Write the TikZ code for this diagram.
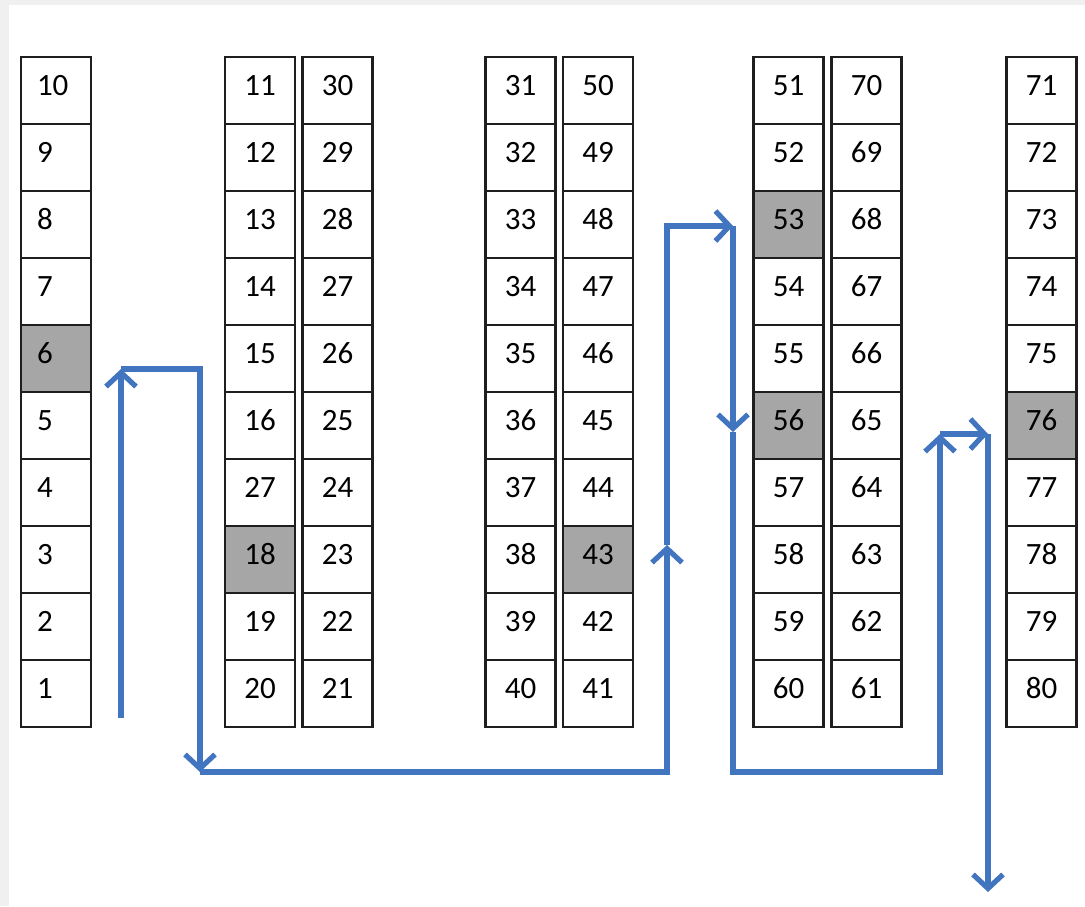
\documentclass[tikz,border=0pt]{standalone}
\usepackage{fontspec}
\setmainfont{Carlito}
\usetikzlibrary{arrows.meta}
\definecolor{flow}{RGB}{66,117,192}
\definecolor{shade}{RGB}{166,166,166}
\definecolor{framegray}{RGB}{240,240,240}
\definecolor{edge}{RGB}{30,30,30}
\begin{document}
\begin{tikzpicture}[x=1pt,y=-1pt,
  cell/.style={draw=edge, line width=2.2pt, fill=white, minimum width=70pt,
    minimum height=67pt, inner sep=0pt, text height=19.6pt, text depth=10pt,
    font=\fontsize{31}{36}\selectfont},
  lcell/.style={cell, text width=38pt, align=left},
  hl6/.style={fill=shade}, hl18/.style={fill=shade}, hl43/.style={fill=shade},
  hl53/.style={fill=shade}, hl56/.style={fill=shade}, hl76/.style={fill=shade},
  flowline/.style={draw=flow, line width=5.2pt,
    -{Straight Barb[length=14pt,width=30pt]}}]
\fill[framegray] (0,0) rectangle (1085,906);
\fill[white] (9,5) rectangle (1085,906);
\useasboundingbox (0,0) rectangle (1085,906);
% cells
\foreach \i in {0,...,9}{
  \pgfmathtruncatemacro\a{10-\i}
  \node[lcell, hl\a/.try] (n\a) at (56,90.5+67*\i) {\a};
  \pgfmathtruncatemacro\a{11+\i}
  \node[cell, hl\a/.try] (n\a) at (260,90.5+67*\i) {\ifnum\a=17 27\else\a\fi};
  \pgfmathtruncatemacro\a{30-\i}
  \node[cell, hl\a/.try] (n\a) at (337.5,90.5+67*\i) {\a};
  \pgfmathtruncatemacro\a{31+\i}
  \node[cell, hl\a/.try] (n\a) at (520.5,90.5+67*\i) {\a};
  \pgfmathtruncatemacro\a{50-\i}
  \node[cell, hl\a/.try] (n\a) at (598,90.5+67*\i) {\a};
  \pgfmathtruncatemacro\a{51+\i}
  \node[cell, hl\a/.try] (n\a) at (788.5,90.5+67*\i) {\a};
  \pgfmathtruncatemacro\a{70-\i}
  \node[cell, hl\a/.try] (n\a) at (866.5,90.5+67*\i) {\a};
  \pgfmathtruncatemacro\a{71+\i}
  \node[cell, hl\a/.try] (n\a) at (1041.5,90.5+67*\i) {\a};
}
% route
\coordinate (p0) at (121,718);
\coordinate (p1) at (121,369);
\coordinate (p2) at (200,369);
\coordinate (p3) at (200,772);
\coordinate (p4) at (667,772);
\coordinate (p5) at (667,545);
\coordinate (p6) at (667,226);
\coordinate (p7) at (733,226);
\coordinate (p8) at (733,432);
\coordinate (p9) at (733,772);
\coordinate (p10) at (940,772);
\coordinate (p11) at (940,434);
\coordinate (p12) at (988,434);
\coordinate (p13) at (988,892);
\draw[flowline] (p0) -- (p1);
\draw[flowline] (p1) -- (p2) -- (p3);
\draw[flowline] (p3) -- (p4) -- (p5);
\draw[flowline] (p5) -- (p6) -- (p7);
\draw[flowline] (p7) -- (p8);
\draw[flowline] (p8) -- (p9) -- (p10) -- (p11);
\draw[flowline] (p11) -- (p12);
\draw[flowline] (p12) -- (p13);
\end{tikzpicture}
\end{document}
